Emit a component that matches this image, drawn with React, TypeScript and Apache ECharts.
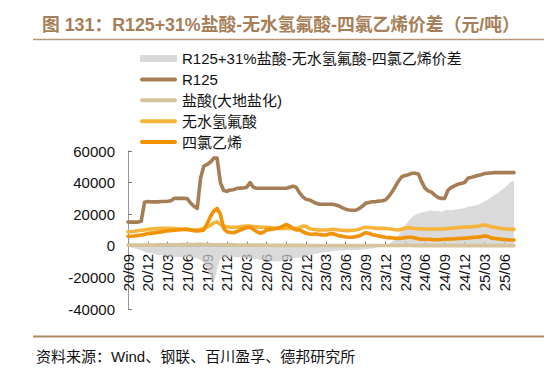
import React, { useEffect, useRef } from "react";
import * as echarts from "echarts";

// half-month categories from 2020-09 to 2025-07
const startYear = 2020;
const startMonth = 9;
const pointCount = 118;
const categories: string[] = [];
for (let i = 0; i < pointCount; i++) {
  const m = startMonth - 1 + Math.floor(i / 2);
  const y = startYear + Math.floor(m / 12);
  const mm = (m % 12) + 1;
  categories.push(`${y}-${String(mm).padStart(2, "0")}-${i % 2 === 0 ? "01" : "16"}`);
}

const seriesNames = [
  "R125+31%盐酸-无水氢氟酸-四氯乙烯价差",
  "R125",
  "盐酸(大地盐化)",
  "无水氢氟酸",
  "四氯乙烯",
];

const spread = [
  -500, -1000, -1600, -2200, -3000, -3700,
  -4200, -4700, -5200, -5800, -6000, -6300,
  -6500, -6700, -6900, -7000, -7100, -7200,
  -7300, -7300, -7500, -8000, -9000, -11000,
  -15000, -19500, -23700, -15300, -8000, -7000,
  -6900, -6900, -7000, -7200, -7300, -7500,
  -7700, -7900, -8200, -8500, -8800, -9000,
  -9300, -9600, -9800, -10000, -9800, -9500,
  -9000, -8500, -8000, -7800, -7500, -7000,
  -6500, -6000, -5500, -5000, -4700, -4300,
  -4000, -3700, -3500, -3200, -3000, -2900,
  -2800, -2700, -2700, -2600, -2500, -2400,
  -2200, -1800, -1500, -1200, -800, -400,
  0, 1000, 2500, 4500, 6500, 10000,
  13000, 15500, 18000, 19500, 20500, 21000,
  21500, 22000, 22500, 21800, 22000, 21600,
  22500, 22700, 22500, 23000, 23200, 23500,
  24000, 24700, 25000, 25500, 25800, 27000,
  28000, 29000, 30500, 32000, 33200, 35000,
  36400, 38500, 40600, 41200,
];

const r125 = [
  15000, 15000, 15000, 15000, 15500, 27500,
  28000, 27800, 27800, 27800, 28000, 28000,
  28200, 28500, 30000, 30000, 30000, 30000,
  29800, 27000, 25000, 23700, 43000, 50500,
  51500, 53000, 55500, 55500, 40000, 35000,
  34500, 35300, 35500, 36400, 36500, 36600,
  37000, 40000, 37000, 36400, 36400, 36400,
  36400, 36400, 36400, 36400, 36400, 36400,
  36400, 37000, 37800, 37000, 33500, 31000,
  29400, 29000, 28000, 26900, 26300, 26300,
  26300, 26300, 26300, 25800, 25200, 24000,
  23200, 22700, 22500, 22500, 23500, 25000,
  26900, 27400, 27900, 27900, 28300, 28500,
  29000, 31000, 34000, 37500, 41000, 43700,
  44500, 45000, 45900, 45900, 45500, 40600,
  36500, 34800, 34000, 32100, 30500, 30000,
  30000, 35300, 37000, 38000, 39000, 39500,
  40000, 42700, 43300, 43900, 44500, 45000,
  45700, 45900, 46100, 46300, 46300, 46300,
  46300, 46300, 46300, 46300,
];

const hcl = [
  400, 400, 450, 450, 500, 500,
  500, 550, 550, 600, 600, 650,
  650, 700, 700, 700, 750, 750,
  800, 800, 850, 900, 900, 850,
  800, 750, 700, 700, 650, 650,
  600, 600, 600, 550, 550, 500,
  500, 500, 450, 450, 400, 400,
  400, 350, 350, 350, 300, 300,
  300, 300, 300, 250, 250, 250,
  200, 200, 200, 200, 200, 150,
  150, 150, 150, 150, 150, 150,
  100, 100, 100, 100, 150, 150,
  150, 150, 150, 150, 150, 150,
  150, 150, 150, 150, 150, 150,
  150, 150, 150, 100, 100, 100,
  100, 100, 100, 100, 100, 100,
  100, 100, 100, 100, 100, 100,
  100, 100, 100, 100, 100, 100,
  100, 100, 100, 100, 100, 100,
  100, 100, 100, 100,
];

const hf = [
  8900, 9000, 9200, 9500, 9800, 10000,
  10400, 10600, 10800, 10900, 11000, 11000,
  11000, 11000, 10900, 10800, 10600, 10500,
  10400, 10200, 10000, 10000, 10500, 11200,
  12000, 13000, 14500, 15200, 13500, 12500,
  12000, 11700, 11700, 11800, 12000, 12300,
  12500, 12500, 12200, 12000, 11800, 11700,
  11700, 11500, 11300, 11200, 11000, 11000,
  11000, 11000, 11000, 11000, 11500, 12500,
  12300, 11000, 10400, 10200, 10000, 10000,
  10000, 10200, 10400, 10300, 10000, 9800,
  9600, 9600, 9800, 10000, 10500, 11200,
  11700, 11600, 11400, 11200, 11000, 11000,
  11000, 10800, 10500, 10200, 10000, 10500,
  11300, 11500, 11300, 11000, 10800, 10700,
  10600, 10600, 10600, 10600, 10600, 10600,
  10700, 10900, 11100, 11300, 11500, 11700,
  11800, 11900, 12000, 12200, 12400, 12800,
  13200, 12800, 12000, 11700, 11400, 11000,
  10800, 10600, 10400, 10400,
];

const pce = [
  6000, 6000, 6200, 6500, 6800, 7200,
  7800, 8000, 8200, 8500, 8800, 9200,
  9500, 9600, 9800, 10000, 10200, 10400,
  10400, 10000, 9600, 9400, 9500, 10000,
  14000, 18500, 22000, 23700, 20000, 11000,
  8900, 8500, 8300, 9000, 10000, 10800,
  11500, 11700, 10500, 9000, 8000, 8500,
  10000, 10400, 10600, 11000, 11500, 12500,
  13500, 12500, 11000, 10000, 10000, 9000,
  7900, 7400, 7300, 7500, 7200, 6900,
  6800, 7500, 7800, 7000, 6300, 6000,
  5600, 5400, 5400, 5800, 6200, 7200,
  8300, 8000, 7000, 6700, 6200, 5800,
  5400, 5200, 5000, 4800, 4700, 4800,
  5200, 5400, 5400, 5000, 4400, 4100,
  4100, 4100, 4000, 3800, 3800, 4000,
  4100, 4200, 4300, 4400, 4600, 4700,
  4800, 5000, 5200, 5400, 5500, 5800,
  6200, 6000, 5000, 4700, 4500, 4200,
  4000, 3800, 3700, 3700,
];

const yTicks = { min: -40000, max: 60000, interval: 20000 };

const titleText = "图 131：R125+31%盐酸-无水氢氟酸-四氯乙烯价差（元/吨）";
const sourceText = "资料来源：Wind、钢联、百川盈孚、德邦研究所";

const FONT = "'Liberation Sans', Arial, 'Noto Sans CJK SC', sans-serif";
const lineIcon = "path://M2,0H35A2,2,0,0,1,35,4H2A2,2,0,0,1,2,0Z";

const GRID = { left: 128, right: 38, top: 151, bottom: 68 };
const GRID_H = 377 - GRID.top - GRID.bottom;
// move the category axis up so that it sits on the zero line
const zeroOffset = -GRID_H * (0 - yTicks.min) / (yTicks.max - yTicks.min);

export default function App() {
  const ref = useRef<HTMLDivElement>(null);
  useEffect(() => {
    if (!ref.current) return;
    const chart = echarts.init(ref.current, null, { renderer: "svg" });
    const lineSeries = (name: string, data: number[], color: string) => ({
      name,
      type: "line",
      data,
      symbol: "none",
      showSymbol: false,
      lineStyle: { width: 3.6, color, cap: "round", join: "round" },
      itemStyle: { color },
      z: 3,
    });
    chart.setOption({
      animation: false,
      textStyle: { fontFamily: FONT },
      title: {
        text: titleText,
        left: 37,
        top: 11,
        textStyle: { fontSize: 17.8, fontWeight: "bold", color: "#A67E57", fontFamily: FONT },
      },
      graphic: [
        { type: "line", shape: { x1: 33, y1: 39.5, x2: 552, y2: 39.5 }, style: { stroke: "#B89878", lineWidth: 1.5 } },
        { type: "line", shape: { x1: 33, y1: 336.5, x2: 552, y2: 336.5 }, style: { stroke: "#AC8A68", lineWidth: 2 } },
        {
          type: "text",
          left: 36,
          top: 349,
          style: { text: sourceText, fontSize: 15, fill: "#111", fontFamily: FONT },
        },
      ],
      legend: {
        orient: "vertical",
        left: 140,
        top: 51,
        padding: 0,
        itemWidth: 37,
        itemHeight: 7,
        itemGap: 5.9,
        textStyle: { fontSize: 15, color: "#111", fontFamily: FONT },
        data: [
          { name: seriesNames[0], icon: "rect" },
          { name: seriesNames[1], icon: lineIcon },
          { name: seriesNames[2], icon: lineIcon },
          { name: seriesNames[3], icon: lineIcon },
          { name: seriesNames[4], icon: lineIcon },
        ],
      },
      grid: GRID,
      xAxis: {
        type: "category",
        data: categories,
        boundaryGap: false,
        offset: zeroOffset,
        axisLine: { onZero: false, lineStyle: { color: "#999", width: 1 } },
        axisTick: { inside: true, length: 4, interval: 5, lineStyle: { color: "#777" } },
        axisLabel: {
          rotate: 90,
          interval: 5,
          fontSize: 15,
          color: "#111",
          margin: 8,
          fontFamily: FONT,
          formatter: (v: string) => `${v.slice(2, 4)}/${v.slice(5, 7)}`,
        },
        splitLine: { show: false },
        splitArea: { show: false },
      },
      yAxis: {
        type: "value",
        min: yTicks.min,
        max: yTicks.max,
        interval: yTicks.interval,
        axisLine: { show: true, lineStyle: { color: "#999" } },
        axisTick: { show: true, inside: true, length: 4, lineStyle: { color: "#777" } },
        axisLabel: {
          fontSize: 15,
          color: "#111",
          margin: 13,
          fontFamily: FONT,
          formatter: (v: number) => String(v),
        },
        splitLine: { show: false },
        splitArea: { show: false },
      },
      series: [
        {
          name: seriesNames[0],
          type: "line",
          data: spread,
          symbol: "none",
          showSymbol: false,
          clip: false,
          lineStyle: { width: 0, color: "#D9D9D9" },
          itemStyle: { color: "#D9D9D9" },
          areaStyle: { color: "#CCCCCC", opacity: 0.72, origin: 0 },
          z: 1,
        },
        lineSeries(seriesNames[1], r125, "#A67E55"),
        lineSeries(seriesNames[2], hcl, "#D8C49C"),
        lineSeries(seriesNames[3], hf, "#F6B53A"),
        lineSeries(seriesNames[4], pce, "#F39200"),
      ],
    });
    return () => chart.dispose();
  }, []);
  return <div ref={ref} style={{ width: 552, height: 377, margin: -8 }} />;
}
